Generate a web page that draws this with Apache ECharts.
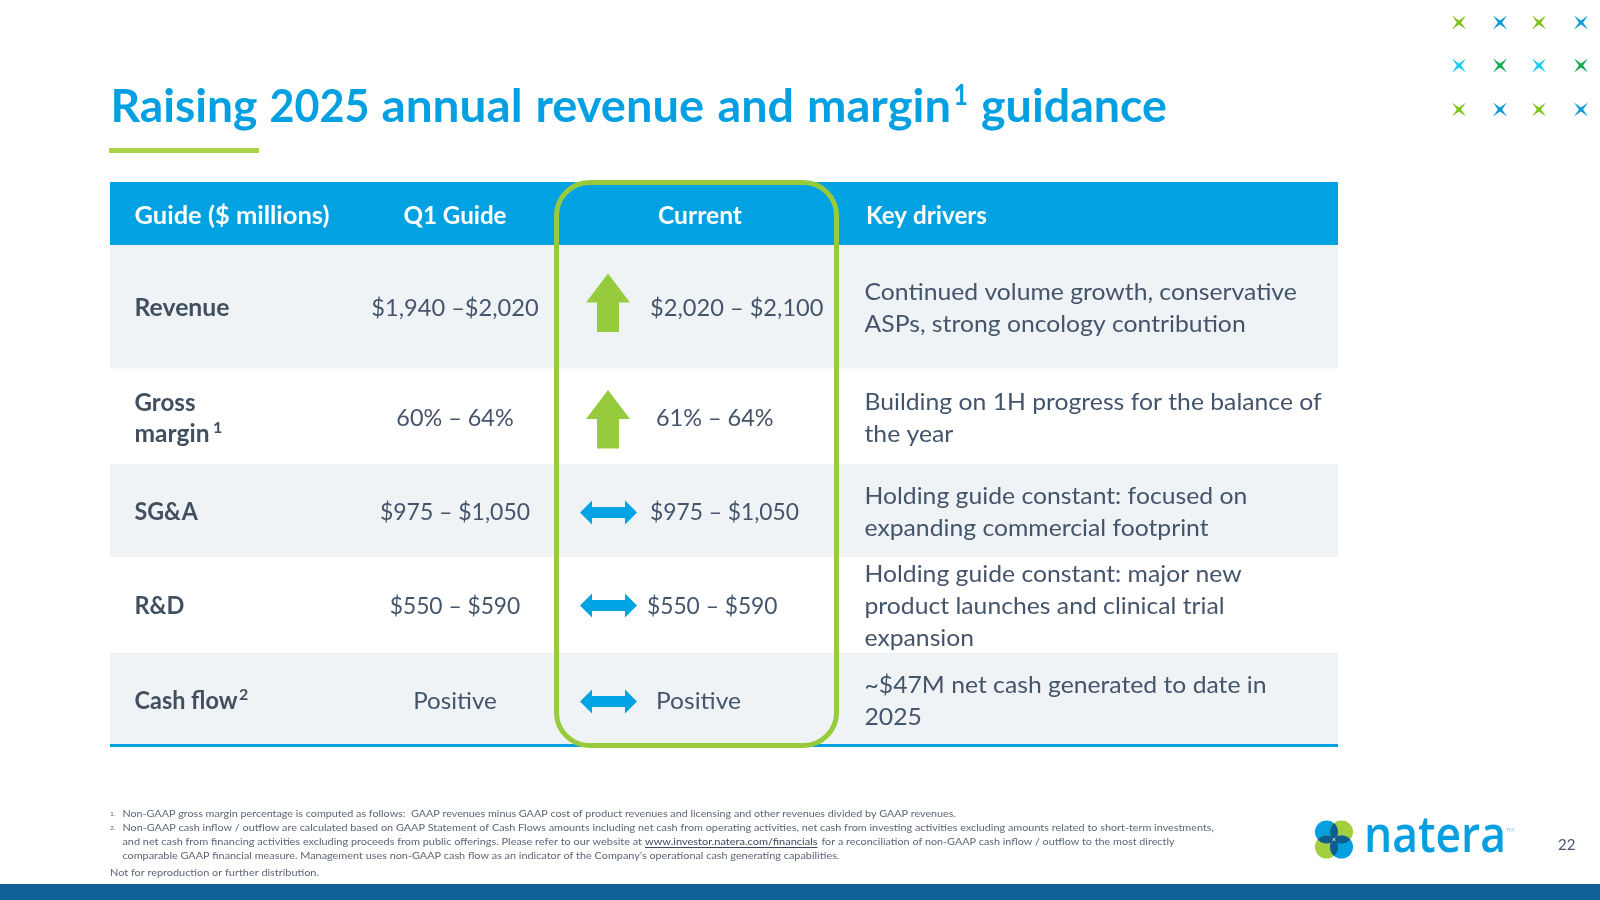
<!DOCTYPE html>
<html><head><meta charset="utf-8">
<style>html,body{margin:0;padding:0;background:#fff}#c{width:1600px;height:900px}</style>
<script src="https://cdn.jsdelivr.net/npm/echarts@6/dist/echarts.min.js"></script>
</head><body><div id="c"></div>
<script>
const titleWords = ["Raising", "2025", "annual", "revenue", "and", "margin", "1", "guidance"];
const columns = ["Guide ($ millions)", "Q1 Guide", "Current", "Key drivers"];
const categories = [["Revenue"], ["Gross", "margin"], ["SG&A"], ["R&D"], ["Cash flow"]];
const categorySup = ["", "1", "", "", "2"];
const q1Guide = ["$1,940 –$2,020", "60% – 64%", "$975 – $1,050", "$550 – $590", "Positive"];
const currentGuide = ["$2,020 – $2,100", "61% – 64%", "$975 – $1,050", "$550 – $590", "Positive"];
const direction = ["up", "up", "flat", "flat", "flat"];
const keyDrivers = [
  ["Continued volume growth, conservative", "ASPs, strong oncology contribution"],
  ["Building on 1H progress for the balance of", "the year"],
  ["Holding guide constant: focused on", "expanding commercial footprint"],
  ["Holding guide constant: major new", "product launches and clinical trial", "expansion"],
  ["~$47M net cash generated to date in", "2025"]
];
const footnotes = [
  "Non-GAAP gross margin percentage is computed as follows:  GAAP revenues minus GAAP cost of product revenues and licensing and other revenues divided by GAAP revenues.",
  "Non-GAAP cash inflow / outflow are calculated based on GAAP Statement of Cash Flows amounts including net cash from operating activities, net cash from investing activities excluding amounts related to short-term investments,",
  "and net cash from financing activities excluding proceeds from public offerings. Please refer to our website at",
  "www.investor.natera.com/financials",
  "for a reconciliation of non-GAAP cash inflow / outflow to the most directly",
  "comparable GAAP financial measure. Management uses non-GAAP cash flow as an indicator of the Company’s operational cash generating capabilities.",
  "Not for reproduction or further distribution."
];

const FONT = 'Lato';
const TXT = '#44546A', BOLD = '#414F5E', BLUE = '#02A2E2', GREEN = '#97CB3D', LIGHT = '#EFF3F6';
const ctx = document.createElement('canvas').getContext('2d');
function txt(text, x, y, o) {
  o = o || {};
  const size = o.size || 24, weight = o.weight || 'normal', fam = o.font || FONT;
  let scaleX = o.sx || 1;
  if (o.w) { ctx.font = weight + ' ' + size + 'px ' + fam; scaleX = o.w / ctx.measureText(text).width; }
  return { type: 'text', silent: true, x: x, y: y, scaleX: scaleX, z: o.z || 5,
    style: { text: text, x: 0, y: 0, fontFamily: fam, fontSize: size, fontWeight: weight,
      fill: o.color || TXT, align: o.align || 'left', verticalAlign: 'middle' } };
}
function poly(points, fill, z) { return { type: 'polygon', silent: true, z: z || 4, shape: { points: points }, style: { fill: fill } }; }
function rect(x, y, w, h, fill, z) { return { type: 'rect', silent: true, z: z || 1, shape: { x: x, y: y, width: w, height: h }, style: { fill: fill } }; }

const el = [];
// title, placed word by word
const wordX = [110.5, 269.5, 381.5, 535.5, 717.5, 807, 953.5, 981];
const wordW = [147, 100, 141, 168.5, 76.5, 144, 14.5, 186];
titleWords.forEach((w, i) => {
  const sup = w === "1";
  el.push(txt(w, wordX[i], sup ? 96 : 107.5, { size: sup ? 29 : 45, weight: 'bold', color: '#05A0E1', w: wordW[i] }));
});
el.push(rect(109, 148, 150, 5, '#A8D548'));

// decorative crosses
const crossX = [1459, 1500, 1539, 1581], crossY = [22.5, 65.5, 109.5];
const crossColors = [['#7AC31A', '#0F9BD7', '#7AC31A', '#0F9BD7'], ['#14CCEE', '#12AB4E', '#14CCEE', '#12AB4E'], ['#7AC31A', '#0F9BD7', '#7AC31A', '#0F9BD7']];
crossY.forEach((cy, r) => crossX.forEach((cx, c) => {
  const a = 7, b = 2.1;
  el.push(poly([[cx - a, cy - a], [cx, cy - b], [cx + a, cy - a], [cx + b, cy], [cx + a, cy + a], [cx, cy + b], [cx - a, cy + a], [cx - b, cy]], crossColors[r][c]));
}));

// table
const rowEdges = [245, 368.5, 464, 557, 653, 745];
const shaded = [true, false, true, false, true];
const rowMid = [308.5, 418, 512, 606.5, 701.5];
el.push(rect(110, 182, 1228, 63, BLUE));
rowEdges.slice(0, 5).forEach((t, i) => { if (shaded[i]) el.push(rect(110, t, 1228, rowEdges[i + 1] - t, LIGHT)); });
el.push(rect(110, 744, 1228, 3, BLUE));
// header
el.push(txt(columns[0], 134.5, 216, { weight: 'bold', color: '#fff', w: 195 }));
el.push(txt(columns[1], 455, 216, { weight: 'bold', color: '#fff', align: 'center', w: 103 }));
el.push(txt(columns[2], 700, 216, { weight: 'bold', color: '#fff', align: 'center', w: 84 }));
el.push(txt(columns[3], 866, 216, { weight: 'bold', color: '#fff', w: 121 }));
// col 1
const catY = [[308.5], [403, 434.5], [512], [606.5], [701.5]];
const catW = [[95], [61, 75], [63.3], [50], [103]];
const supX = [0, 213, 0, 0, 239];
categories.forEach((lines, i) => {
  lines.forEach((l, j) => el.push(txt(l, 134.5, catY[i][j], { weight: 'bold', color: BOLD, w: catW[i][j] })));
  if (categorySup[i]) el.push(txt(categorySup[i], supX[i], catY[i][catY[i].length - 1] - 7, { size: 16, weight: 'bold', color: BOLD }));
});
// col 2
const q1W = [167.3, 117.3, 150, 130.6, 83.7];
q1Guide.forEach((s, i) => el.push(txt(s, 455, rowMid[i], { align: 'center', w: q1W[i] })));
// col 3
const curX = [650, 656, 650, 647, 656], curW = [173.5, 117.5, 149, 130.5, 85];
currentGuide.forEach((s, i) => el.push(txt(s, curX[i], rowMid[i], { w: curW[i] })));
const upTop = [273.5, 390];
let upIdx = 0;
const dblMid = [512.5, 605.5, 701.5];
let dblIdx = 0;
direction.forEach(d => {
  if (d === 'up') {
    const t = upTop[upIdx++], cx = 608;
    el.push(poly([[cx, t], [cx + 22, t + 29], [cx + 11, t + 29], [cx + 11, t + 58.5], [cx - 11, t + 58.5], [cx - 11, t + 29], [cx - 22, t + 29]], '#95CB3C'));
  } else {
    const m = dblMid[dblIdx++], l = 580, r = 637, h = 12, s = 5.5, hw = 12;
    el.push(poly([[l, m], [l + hw, m - h], [l + hw, m - s], [r - hw, m - s], [r - hw, m - h], [r, m], [r - hw, m + h], [r - hw, m + s], [l + hw, m + s], [l + hw, m + h]], '#00A3E3'));
  }
});
// col 4
const driverY = [[292, 324], [402, 434], [496, 528], [574.5, 606.5, 638.5], [685, 717]];
keyDrivers.forEach((lines, i) => lines.forEach((l, j) => el.push(txt(l, 864.5, driverY[i][j], { sx: 1.03 }))));
// highlight frame
el.push({ type: 'rect', silent: true, z: 6, shape: { x: 556.5, y: 182.5, width: 280, height: 563, r: 33 }, style: { fill: 'none', stroke: GREEN, lineWidth: 5 } });

// footnotes
const FS = 10.3, FC = '#5A6675';
el.push(txt('1.', 110, 814, { size: 6.5, color: FC }));
el.push(txt('2.', 110, 828, { size: 6.5, color: FC }));
el.push(txt(footnotes[0], 122.4, 813.5, { size: FS, color: FC, w: 833.6 }));
el.push(txt(footnotes[1], 122.4, 827.5, { size: FS, color: FC, w: 1091.6 }));
el.push(txt(footnotes[2], 122.4, 841.5, { size: FS, color: FC, w: 519.6 }));
el.push(txt(footnotes[3], 645, 841.5, { size: FS, color: '#3A4A5C', w: 172.5 }));
el.push(rect(645, 847, 172.5, 0.9, '#3A4A5C', 5));
el.push(txt(footnotes[4], 821.5, 841.5, { size: FS, color: FC, w: 353 }));
el.push(txt(footnotes[5], 122.4, 855.5, { size: FS, color: FC, w: 717 }));
el.push(txt(footnotes[6], 110, 872.5, { size: FS, color: FC, w: 209 }));
// bottom band
el.push(rect(0, 884, 1600, 16, '#106195'));
// logo
const lx = [1326.5, 1341.5], ly = [832, 847], lr = 11.5, dist = 7.5;
el.push({ type: 'circle', silent: true, z: 2, shape: { cx: lx[0], cy: ly[0], r: lr }, style: { fill: '#069FE0' } });
el.push({ type: 'circle', silent: true, z: 2, shape: { cx: lx[1], cy: ly[0], r: lr }, style: { fill: '#A3CF3E' } });
el.push({ type: 'circle', silent: true, z: 2, shape: { cx: lx[0], cy: ly[1], r: lr }, style: { fill: '#A3CF3E' } });
el.push({ type: 'circle', silent: true, z: 2, shape: { cx: lx[1], cy: ly[1], r: lr }, style: { fill: '#069FE0' } });
function lens(cx, cy, vertical) {
  const half = Math.sqrt(lr * lr - dist * dist), pts = [], n = 16;
  for (let k = 0; k <= n; k++) { const t = -half + 2 * half * k / n; const w = Math.sqrt(lr * lr - t * t) - dist; pts.push(vertical ? [cx + w, cy + t] : [cx + t, cy - w]); }
  for (let k = n; k >= 0; k--) { const t = -half + 2 * half * k / n; const w = Math.sqrt(lr * lr - t * t) - dist; pts.push(vertical ? [cx - w, cy + t] : [cx + t, cy + w]); }
  return pts;
}
const mx = 1334, my = 839.5;
[lens(mx, ly[0], true), lens(mx, ly[1], true), lens(lx[0], my, false), lens(lx[1], my, false)].forEach(p => el.push(poly(p, '#0D5E8E', 3)));
el.push(poly([[mx - 2.2, my - 2.2], [mx, my - .5], [mx + 2.2, my - 2.2], [mx + .5, my], [mx + 2.2, my + 2.2], [mx, my + .5], [mx - 2.2, my + 2.2], [mx - .5, my]], '#fff', 4));
el.push(txt('natera', 1364, 838, { size: 50, weight: 600, color: '#069FE0', font: 'Open Sans', w: 142 }));
el.push(txt('TM', 1506, 830, { size: 6, color: '#8cc4e6', w: 8 }));
el.push(txt('22', 1558, 845, { size: 15, color: TXT }));

const chart = echarts.init(document.getElementById('c'), null, { renderer: 'canvas', width: 1600, height: 900 });
chart.setOption({ backgroundColor: '#fff', animation: false, graphic: { elements: el } });
</script></body></html>
